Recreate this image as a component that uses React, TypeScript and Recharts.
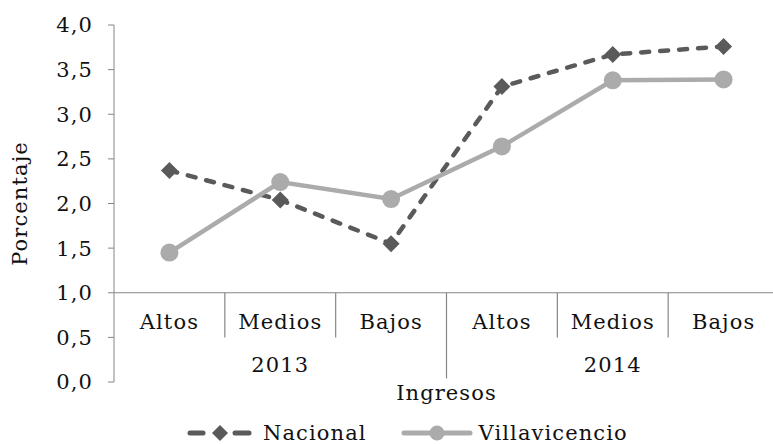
import React from "react"
import {
  LineChart,
  Line,
  XAxis,
  YAxis,
  ReferenceLine,
  Legend,
} from "recharts"

// categorías de ingreso por año
const categories = ["Altos", "Medios", "Bajos", "Altos", "Medios", "Bajos"]
const years = ["2013", "2014"]
const nacional = [2.37, 2.04, 1.55, 3.31, 3.67, 3.76]
const villavicencio = [1.45, 2.24, 2.05, 2.64, 3.38, 3.39]
const yTicks = [0, 0.5, 1, 1.5, 2, 2.5, 3, 3.5, 4]

const data = categories.map((c, i) => ({
  pos: i + 0.5,
  cat: c,
  nacional: nacional[i],
  villavicencio: villavicencio[i],
}))

const FONT = "'DejaVu Serif', serif"
const FS = 21
const LS = 1.1
const TEXT = "#111"
const AXIS = "#868686"
const DARK = "#5a5a5a"
const LIGHT = "#ababab"

function CategoryTick(props: any) {
  const { x, y, index } = props
  return (
    <g>
      <text
        x={x}
        y={y - 60}
        textAnchor="middle"
        dominantBaseline="central"
        fontFamily={FONT}
        fontSize={FS}
        letterSpacing={LS}
        fill={TEXT}
      >
        {categories[index]}
      </text>
      {index % 3 === 1 && (
        <text
          x={x}
          y={y - 17}
          textAnchor="middle"
          dominantBaseline="central"
          fontFamily={FONT}
          fontSize={FS}
          letterSpacing={LS}
          fill={TEXT}
        >
          {years[Math.floor(index / 3)]}
        </text>
      )}
    </g>
  )
}

function Diamond(props: any) {
  const { cx, cy } = props
  if (cx == null || cy == null) return null
  const s = 8.5
  return (
    <path
      d={`M${cx},${cy - s}L${cx + s},${cy}L${cx},${cy + s}L${cx - s},${cy}Z`}
      fill={DARK}
    />
  )
}

function Circle(props: any) {
  const { cx, cy } = props
  if (cx == null || cy == null) return null
  return <circle cx={cx} cy={cy} r={9} fill={LIGHT} />
}

function LegendContent() {
  return (
    <div
      style={{
        height: 42,
        display: "flex",
        alignItems: "flex-end",
        paddingLeft: 185,
        fontFamily: FONT,
        fontSize: FS,
        letterSpacing: LS,
        color: TEXT,
        lineHeight: "22px",
        boxSizing: "border-box",
      }}
    >
      <div style={{ display: "flex", alignItems: "center", marginRight: 34 }}>
        <svg width={69} height={20}>
          <line x1={5} x2={18} y1={10} y2={10} stroke={DARK} strokeWidth={5} strokeLinecap="round" />
          <line x1={50} x2={64} y1={10} y2={10} stroke={DARK} strokeWidth={5} strokeLinecap="round" />
          <path d="M35,2L43,10L35,18L27,10Z" fill={DARK} />
        </svg>
        <span style={{ marginLeft: 9 }}>Nacional</span>
      </div>
      <div style={{ display: "flex", alignItems: "center" }}>
        <svg width={72} height={20}>
          <line x1={3} x2={69} y1={10} y2={10} stroke={LIGHT} strokeWidth={5} strokeLinecap="round" />
          <circle cx={36} cy={10} r={7.5} fill={LIGHT} />
        </svg>
        <span style={{ marginLeft: 6 }}>Villavicencio</span>
      </div>
    </div>
  )
}

function YLabel(props: any) {
  const { viewBox } = props
  const cx = viewBox.x + 20
  const cy = viewBox.y + viewBox.height / 2
  return (
    <text
      x={cx}
      y={cy}
      transform={`rotate(-90, ${cx}, ${cy})`}
      textAnchor="middle"
      dominantBaseline="central"
      fontFamily={FONT}
      fontSize={FS}
      letterSpacing={LS}
      fill={TEXT}
    >
      Porcentaje
    </text>
  )
}

export default function App() {
  return (
    <div
      style={{
        position: "absolute",
        left: 0,
        top: 0,
        width: 773,
        height: 444,
        overflow: "hidden",
        background: "#fff",
      }}
    >
      <LineChart
        width={780}
        height={444}
        data={data}
        margin={{ top: 25, right: 1, bottom: 0, left: 0 }}
      >
        <XAxis
          type="number"
          dataKey="pos"
          domain={[0, 6]}
          ticks={data.map((d) => d.pos)}
          axisLine={false}
          tickLine={false}
          tickSize={0}
          tickMargin={0}
          height={20}
          tick={<CategoryTick />}
          interval={0}
          label={{
            value: "Ingresos",
            position: "insideBottom",
            offset: 2,
            fontFamily: FONT,
            fontSize: FS,
            letterSpacing: LS,
            fill: TEXT,
          }}
        />
        <YAxis
          domain={[0, 4]}
          ticks={yTicks}
          width={114}
          stroke={AXIS}
          tickSize={6}
          tickMargin={15}
          tick={{ fontFamily: FONT, fontSize: FS, letterSpacing: LS, fill: TEXT }}
          tickFormatter={(v: number) => v.toFixed(1).replace(".", ",")}
          label={<YLabel />}
        />
        <ReferenceLine y={1} stroke={AXIS} strokeWidth={1.2} />
        {[1, 2, 3, 4, 5].map((b) => (
          <ReferenceLine
            key={b}
            segment={[
              { x: b, y: 1 },
              { x: b, y: b === 3 ? 0.04 : 0.5 },
            ]}
            stroke={AXIS}
            strokeWidth={1.2}
          />
        ))}
        <Legend
          verticalAlign="bottom"
          content={<LegendContent />}
          wrapperStyle={{ left: 0, width: 780 }}
        />
        <Line
          name="Nacional"
          dataKey="nacional"
          stroke={DARK}
          strokeWidth={4.5}
          strokeDasharray="8 11"
          strokeLinecap="round"
          dot={<Diamond />}
          activeDot={false}
          isAnimationActive={false}
        />
        <Line
          name="Villavicencio"
          dataKey="villavicencio"
          stroke={LIGHT}
          strokeWidth={4.5}
          dot={<Circle />}
          activeDot={false}
          isAnimationActive={false}
        />
      </LineChart>
    </div>
  )
}
